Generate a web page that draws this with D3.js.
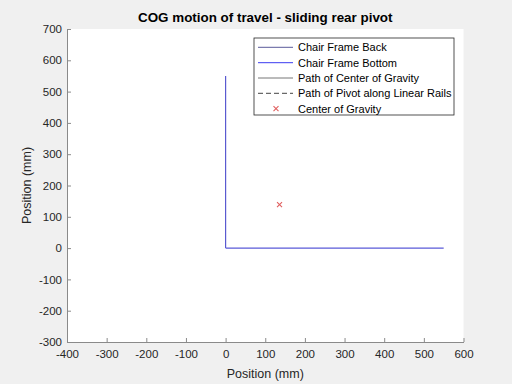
<!DOCTYPE html>
<html><head><meta charset="utf-8">
<script src="https://cdn.jsdelivr.net/npm/d3@7"></script>
<style>
html,body{margin:0;padding:0;background:#f0f0f0;}
svg{display:block;font-family:"Liberation Sans",Arial,sans-serif;}
</style></head>
<body><svg id="c" width="512" height="384"></svg>
<script>
const xTicks = [-400,-300,-200,-100,0,100,200,300,400,500,600];
const yTicks = [-300,-200,-100,0,100,200,300,400,500,600,700];
const chairBackX = [0, 0];
const chairBackY = [0, 550];
const chairBottomX = [0, 550];
const chairBottomY = [0, 0];
const cogX = [136];
const cogY = [139];
const legendLabels = ["Chair Frame Back","Chair Frame Bottom","Path of Center of Gravity","Path of Pivot along Linear Rails","Center of Gravity"];

const svg = d3.select("#c");
const L=67, R=463.5, T=29, B=342;
const x = d3.scaleLinear().domain([-400,600]).range([L,R]);
const y = d3.scaleLinear().domain([-300,700]).range([B,T]);

svg.append("rect").attr("x",L).attr("y",T).attr("width",R-L).attr("height",B-T).attr("fill","#fff");

const axCol = "#8a8a8a";
const fmt = d=>String(d);
const xa = svg.append("g").attr("transform",`translate(0,${B})`)
  .call(d3.axisBottom(x).tickValues(xTicks).tickFormat(fmt).tickSizeInner(-4).tickSizeOuter(0).tickPadding(8));
const ya = svg.append("g").attr("transform",`translate(${L},0)`)
  .call(d3.axisLeft(y).tickValues(yTicks).tickFormat(fmt).tickSizeInner(-4).tickSizeOuter(0).tickPadding(5));
[xa,ya].forEach(g=>{
  g.select(".domain").attr("stroke",axCol);
  g.selectAll(".tick line").attr("stroke",axCol);
  g.selectAll("text").attr("fill","#262626").attr("font-size","11.5px").attr("font-family","Liberation Sans, Arial, sans-serif");
});

const line = d3.line().x(d=>x(d[0])).y(d=>y(d[1]));
svg.append("path").datum(chairBackX.map((v,i)=>[v,chairBackY[i]]))
  .attr("d",line).attr("fill","none").attr("stroke","#5a5ad0").attr("stroke-width",1.2);
svg.append("path").datum(chairBottomX.map((v,i)=>[v,chairBottomY[i]]))
  .attr("d",line).attr("fill","none").attr("stroke","#5a5ad8").attr("stroke-width",1.2);

const cross = (g,cx,cy,s)=>{
  g.append("path").attr("d",`M${cx-s},${cy-s}L${cx+s},${cy+s}M${cx-s},${cy+s}L${cx+s},${cy-s}`)
   .attr("stroke","#e06060").attr("stroke-width",1.1).attr("fill","none");
};
cogX.forEach((v,i)=>cross(svg,x(v),y(cogY[i]),2.5));

// title & labels
svg.append("text").attr("x",(L+R)/2).attr("y",22).attr("text-anchor","middle")
  .attr("font-weight","bold").attr("font-size","13.4px").attr("fill","#000").text("COG motion of travel - sliding rear pivot");
svg.append("text").attr("x",(L+R)/2).attr("y",378).attr("text-anchor","middle")
  .attr("font-size","12.5px").attr("fill","#262626").text("Position (mm)");
svg.append("text").attr("transform",`translate(31,${(T+B)/2}) rotate(-90)`).attr("text-anchor","middle")
  .attr("font-size","12.5px").attr("fill","#262626").text("Position (mm)");

// legend
const lg = svg.append("g");
lg.append("rect").attr("x",254).attr("y",38).attr("width",200).attr("height",77)
  .attr("fill","#fff").attr("stroke","#262626").attr("stroke-width",0.8);
const rowY = [47.3,62.7,78,93.3,108.7];
const styles = [
  {c:"#5a5a9a",d:null},{c:"#3a3af0",d:null},{c:"#777",d:null},{c:"#444",d:"5,3"},{c:null}
];
legendLabels.forEach((t,i)=>{
  const yy=rowY[i], s=styles[i];
  if(s.c){
    lg.append("line").attr("x1",258).attr("x2",293).attr("y1",yy).attr("y2",yy)
      .attr("stroke",s.c).attr("stroke-width",1).attr("stroke-dasharray",s.d);
  } else cross(lg,276,yy,2.5);
  lg.append("text").attr("x",298).attr("y",yy+4).attr("font-size","11px").attr("fill","#000").text(t);
});
</script></body></html>
